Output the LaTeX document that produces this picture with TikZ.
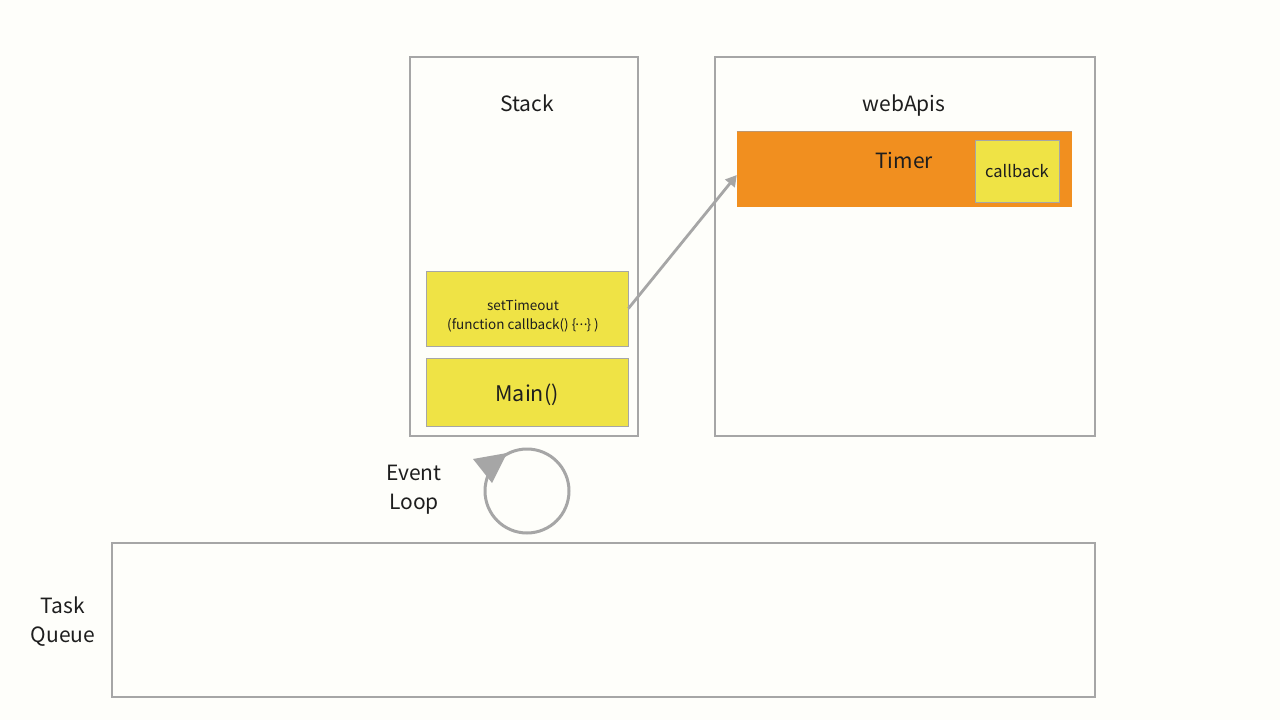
\documentclass[tikz,border=0pt]{standalone}
\usepackage{fontspec}
\setmainfont{Noto Sans CJK SC}
\usetikzlibrary{arrows.meta}
\definecolor{bg}{RGB}{254,254,250}
\definecolor{lgray}{RGB}{166,166,166}
\definecolor{boxyel}{RGB}{239,227,69}
\definecolor{timerorg}{RGB}{241,143,31}
\definecolor{timeredge}{RGB}{190,150,110}
\definecolor{txt}{RGB}{30,30,30}
\tikzset{
  panel/.style={draw=lgray, line width=2.2pt, rectangle, inner sep=0pt},
  yelbox/.style={draw=lgray, line width=0.8pt, fill=boxyel, rectangle, inner sep=0pt, text=txt, align=center},
  label/.style={text=txt, align=center, inner sep=0pt},
  big/.style={font=\fontsize{21}{29}\selectfont},
}
\begin{document}
\begin{tikzpicture}[x=1pt,y=-1pt]
\fill[bg] (0,0) rectangle (1280,720);
\useasboundingbox (0,0) rectangle (1280,720);
% panels
\node[panel, minimum width=228, minimum height=379] (stack) at (524,246.5) {};
\node[panel, minimum width=380, minimum height=379] (web) at (905,246.5) {};
\node[panel, minimum width=983, minimum height=154] (queue) at (603.5,620) {};
% titles
\node[label, big] (stacklbl) at (527,103) {Stack};
\node[label, big] (weblbl) at (904,106) {webApis};
\node[label, big] (queuelbl) at (63,622) {Task\\Queue};
\node[label, big] (looplbl) at (414,490) {Event\\Loop};
% timer
\node[rectangle, fill=timerorg, inner sep=0pt, minimum width=335, minimum height=75] (timer) at (904.5,169.5) {};
\draw[timeredge, line width=0.8pt] (timer.north west) -- (timer.north east);
\node[label, font=\fontsize{21}{26}\selectfont] (timerlbl) at (904,160) {Timer};
\node[yelbox, minimum width=84, minimum height=62, font=\fontsize{16.5}{20}\selectfont] (cb) at (1017,171) {callback};
% stack frames
\node[yelbox, minimum width=202, minimum height=75] (set) at (527,308.5) {};
\node[label, font=\fontsize{13.5}{19}\selectfont] (setlbl) at (523,316) {setTimeout\\(function callback() \{\raisebox{0.3em}{\kern-1pt.\kern0.5pt.\kern0.5pt.\kern-1pt}\} )};
\node[yelbox, minimum width=202, minimum height=68] (main) at (527,392) {};
\node[label, font=\fontsize{21.5}{26}\selectfont] (mainlbl) at (527,395) {Main()};
% arrow to webApis
\draw[lgray, line width=2.8pt, -{Triangle[length=11pt,width=12pt]}] (set.east) -- ([yshift=-5.5pt]timer.west);
% event loop
\node[circle, draw=lgray, line width=3pt, minimum size=84, inner sep=0pt] (loop) at (527,491) {};
\fill[lgray] (473,459) -- (507,453) -- (492,483) -- cycle;
\end{tikzpicture}
\end{document}
